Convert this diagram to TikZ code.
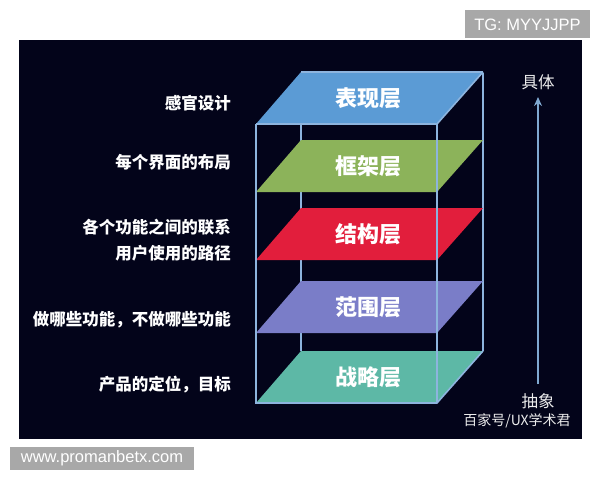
\documentclass[tikz,border=0pt]{standalone}
\usepackage{fontspec}
\setmainfont{Liberation Sans}
\newfontfamily\cjk{Noto Sans CJK SC}
\usetikzlibrary{arrows.meta}
\definecolor{bg}{HTML}{03041A}
\definecolor{graybox}{HTML}{A8A8A8}
\definecolor{lblue}{HTML}{5B9BD5}
\definecolor{lgreen}{HTML}{8CB35A}
\definecolor{lred}{HTML}{E21E3C}
\definecolor{lpurp}{HTML}{7A7DC8}
\definecolor{lteal}{HTML}{5DB8A6}
\definecolor{wire}{HTML}{8DB4DE}
\definecolor{arr}{HTML}{7FA8D0}
\tikzset{
  wm/.style={text=white, font=\fontsize{16.5}{16.5}\selectfont, inner sep=0pt},
  leftlbl/.style={text=white, anchor=east, inner sep=0pt, font=\cjk\bfseries\fontsize{16.5}{26}\selectfont, align=right},
  layerlbl/.style={text=white, inner sep=0pt, font=\cjk\bfseries\fontsize{22}{22}\selectfont},
  sidelbl/.style={text=white!85!gray, inner sep=0pt, font=\cjk\fontsize{16.5}{16.5}\selectfont},
  wireline/.style={draw=wire, line width=1.6pt},
}
\begin{document}
\begin{tikzpicture}[x=1pt,y=-1pt]
\useasboundingbox (0,0) rectangle (600,480);
\fill[white] (0,0) rectangle (600,480);
\fill[bg] (19,40) rectangle (582,439);
\fill[graybox] (465,10) rectangle (590,38);
\node[wm] (tg) at (527.5,24.5) {TG: MYYJJPP};
\fill[graybox] (10,447) rectangle (194,470);
\node[wm] (www) at (102,458.5) {www.promanbetx.com};
% back verticals
\draw[wireline] (301,73) -- (301,351);
\draw[wireline] (483,73) -- (483,351);
% layers
\foreach \yf/\col/\txt/\nm in {403/lteal/战略层/l5, 333/lpurp/范围层/l4, 260/lred/结构层/l3, 192/lgreen/框架层/l2, 124/lblue/表现层/l1} {
  \fill[\col] (256,\yf) -- (437,\yf) -- (483,\yf-52) -- (301,\yf-52) -- cycle;
  \node[layerlbl] (\nm) at (368,\yf-26) {\txt};
}
% top outline edge and front verticals
\draw[wireline] (301,72) -- (483,72);
\draw[wireline] (256,124) -- (437,124) -- (483,72);
\draw[wireline] (256,124) -- (256,403) -- (437,403) -- (483,351);
\draw[wireline] (437,124) -- (437,403);
% left labels
\node[leftlbl] (t1) at (231,103) {感官设计};
\node[leftlbl] (t2) at (231,162) {每个界面的布局};
\node[leftlbl] (t3) at (231,240) {各个功能之间的联系\\用户使用的路径};
\node[leftlbl] (t4) at (231,320) {做哪些功能，不做哪些功能};
\node[leftlbl] (t5) at (231,385) {产品的定位，目标};
% right arrow
\node[sidelbl] (top) at (538,82) {具体};
\node[sidelbl] (bot) at (538,401) {抽象};
\draw[arr, line width=2pt, -{Stealth[length=9pt,width=8pt]}] (538,384) -- (538,97);
\node[sidelbl, font=\cjk\fontsize{14}{14}\selectfont] (src) at (517,421) {百家号/UX学术君};
\end{tikzpicture}
\end{document}
